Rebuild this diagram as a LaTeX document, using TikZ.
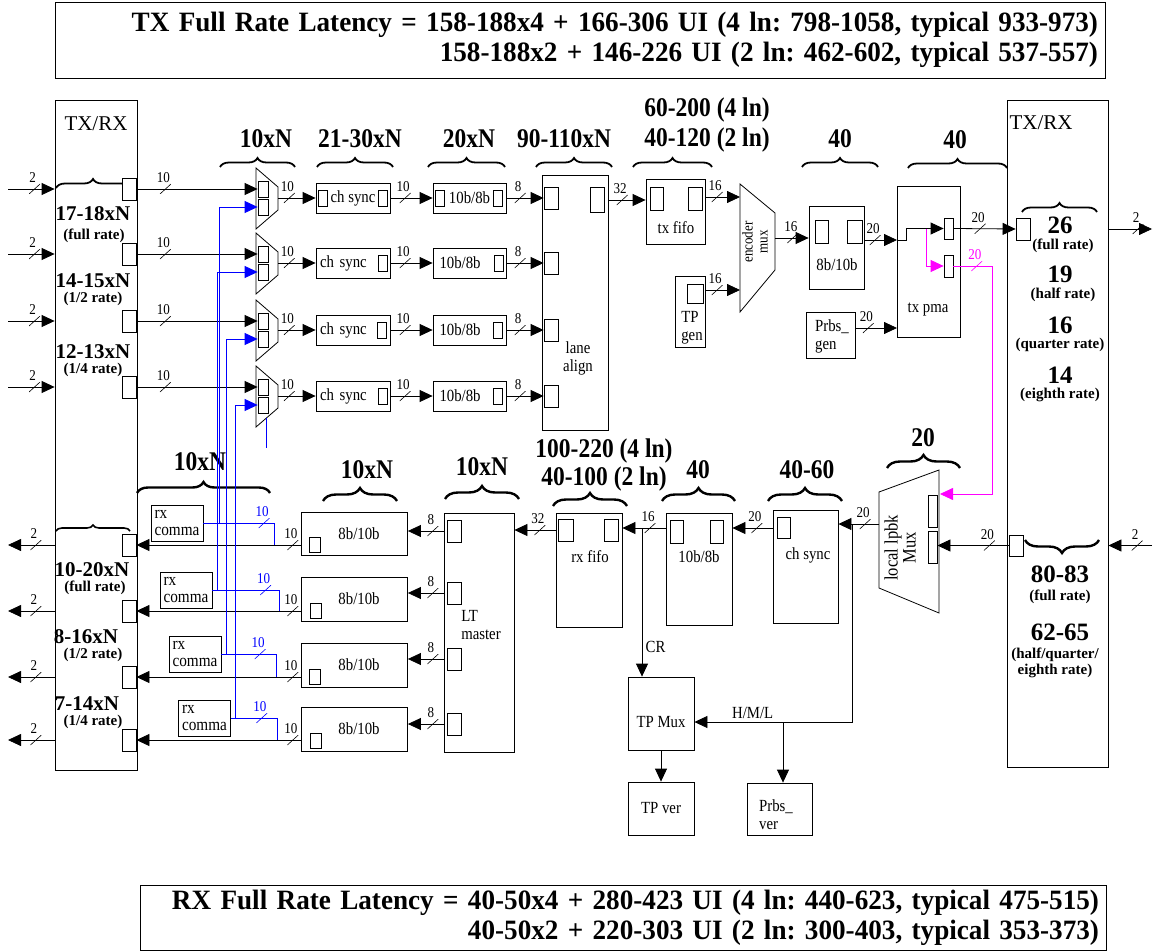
\documentclass[tikz,border=0pt]{standalone}
\usepackage{fontspec}
\setmainfont{Liberation Serif}
\newfontfamily\condserif[FakeStretch=0.97]{Liberation Serif}
\newfontfamily\narrowserif[FakeStretch=0.87]{Liberation Serif}
\usetikzlibrary{arrows.meta, decorations.pathreplacing}
\definecolor{wireblue}{RGB}{0,0,255}
\definecolor{loopmag}{RGB}{255,0,255}
\newcommand{\lblfont}{\narrowserif\fontsize{17}{18}\selectfont}
\newcommand{\commafont}{\narrowserif\fontsize{17.5}{17}\selectfont}
\newcommand{\busfont}{\narrowserif\fontsize{15}{15}\selectfont}
\newcommand{\sidefont}{\fontsize{21}{21}\selectfont}
\newcommand{\headfont}{\narrowserif\fontsize{27}{30}\selectfont\bfseries}
\newcommand{\numfont}{\fontsize{21}{21}\selectfont\bfseries}
\newcommand{\bignumfont}{\fontsize{25}{25}\selectfont\bfseries}
\newcommand{\ratefont}{\fontsize{15}{16}\selectfont\bfseries}
\newcommand{\latfont}{\condserif\fontsize{28}{30}\selectfont\bfseries}
\tikzstyle{box} = [rectangle, draw=black, line width=0.8pt, inner sep=0pt, font=\lblfont]
\tikzstyle{port} = [rectangle, draw=black, line width=0.8pt, fill=white, inner sep=0pt, minimum width=14pt, minimum height=22pt]
\tikzstyle{sport} = [port, minimum width=10pt, minimum height=16pt]
\tikzstyle{wire} = [line width=0.8pt]
\tikzstyle{arrow} = [line width=0.8pt, -{Triangle[length=13pt,width=12pt]}]
\tikzstyle{brc} = [decorate, decoration={brace, amplitude=9pt}, line width=1.8pt]
\tikzstyle{brcb} = [decorate, decoration={brace, amplitude=13pt}, line width=2.4pt]
\tikzstyle{ratetxt} = [font=\ratefont, inner sep=0.5pt]
\tikzstyle{bignum} = [font=\bignumfont, inner sep=0.5pt]
\tikzstyle{slash} = [inner sep=0pt, minimum width=11pt, minimum height=10pt, path picture={\draw[-, line width=0.6pt] (path picture bounding box.south west) -- (path picture bounding box.north east);}]
\tikzset{bus/.style={slash, label={[font=\busfont, inner sep=0.5pt, xshift=-2pt]above:#1}}}

\begin{document}
\frenchspacing
\begin{tikzpicture}[x=1pt, y=-1pt]
\useasboundingbox (0,0) rectangle (1153,952);

% latency boxes
\node[box, minimum width=1050, minimum height=76, text width=1036, align=right, font=\latfont] (txlat) at (580,40) {TX Full Rate Latency = 158-188x4 + 166-306 UI (4 ln: 798-1058, typical 933-973)\\158-188x2 + 146-226 UI (2 ln: 462-602, typical 537-557)};
\node[box, minimum width=966, minimum height=65, text width=952, align=right, font=\latfont] (rxlat) at (623,917.5) {RX Full Rate Latency = 40-50x4 + 280-423 UI (4 ln: 440-623, typical 475-515)\\40-50x2 + 220-303 UI (2 ln: 300-403, typical 353-373)};

% TX/RX side boxes
\node[box, minimum width=82, minimum height=670] (lbox) at (96,435) {};
\node[font=\sidefont] (ltxt) at (96,124) {TX/RX};
\node[box, minimum width=101, minimum height=667] (rbox) at (1057.5,433.5) {};
\node[font=\sidefont] (rtxt) at (1041,123) {TX/RX};

\node[font=\numfont] (lt1) at (93,214) {17-18xN};
\node[ratetxt] (lt1s) at (94,236) {(full rate)};
\node[font=\numfont] (lt2) at (93,281) {14-15xN};
\node[ratetxt] (lt2s) at (93,299) {(1/2 rate)};
\node[font=\numfont] (lt3) at (93,352) {12-13xN};
\node[ratetxt] (lt3s) at (93,370) {(1/4 rate)};
\node[font=\numfont] (lr1) at (92,570) {10-20xN};
\node[ratetxt] (lr1s) at (95,588) {(full rate)};
\node[font=\numfont] (lr2) at (86,637) {8-16xN};
\node[ratetxt] (lr2s) at (93,655) {(1/2 rate)};
\node[font=\numfont] (lr3) at (87,704) {7-14xN};
\node[ratetxt] (lr3s) at (93,722) {(1/4 rate)};

\node[bignum] (rt1) at (1060,225) {26};
\node[ratetxt] (rt1s) at (1063,246) {(full rate)};
\node[bignum] (rt2) at (1060,274) {19};
\node[ratetxt] (rt2s) at (1063,295) {(half rate)};
\node[bignum] (rt3) at (1060,325) {16};
\node[ratetxt] (rt3s) at (1060,345) {(quarter rate)};
\node[bignum] (rt4) at (1060,375) {14};
\node[ratetxt] (rt4s) at (1060,395) {(eighth rate)};
\node[bignum] (rr1) at (1060,574) {80-83};
\node[ratetxt] (rr1s) at (1060,597) {(full rate)};
\node[bignum] (rr2) at (1060,632) {62-65};
\node[ratetxt, align=center] (rr2s) at (1055,663) {(half/quarter/\\eighth rate)};

\draw[brc] (56,188) -- (130,188);
\draw[brc] (1022,212) -- (1097,212);
\draw[decorate, decoration={brace, amplitude=6pt}, line width=1.6pt] (56,531) -- (130,531);
\draw[brcb] (1099,540) -- (1025,540);

% TX headings
\node[font=\headfont] (htx1) at (266,139) {10xN};
\node[font=\headfont] (htx2) at (360,139) {21-30xN};
\node[font=\headfont] (htx3) at (469,139) {20xN};
\node[font=\headfont] (htx4) at (564,139) {90-110xN};
\node[font=\headfont, align=center] (htx5) at (707,125) {60-200 (4 ln)\\40-120 (2 ln)};
\node[font=\headfont] (htx6) at (840,139) {40};
\node[font=\headfont] (htx7) at (955,140) {40};
\draw[brc] (220,167) -- (295,167);
\draw[brc] (317,167) -- (393,167);
\draw[brc] (428,167) -- (505,167);
\draw[brc] (536,167) -- (612,167);
\draw[brc] (633,167) -- (712,167);
\draw[brc] (802,167) -- (878,167);
\draw[brc] (908,168) -- (1007,168);

% TX lanes: ports, muxes, ch sync, 10b/8b
\node[port] (ltp1) at (129,189) {};
\node[port] (ltp2) at (129,254) {};
\node[port] (ltp3) at (129,321) {};
\node[port] (ltp4) at (129,387) {};
\coordinate (tin1) at (8,189);
\coordinate (tin2) at (8,254);
\coordinate (tin3) at (8,321);
\coordinate (tin4) at (8,387);

\draw[wire] (256,168) -- (278,187) -- (278,210) -- (256,229) -- cycle;
\draw[wire] (256,233) -- (278,252) -- (278,275) -- (256,294) -- cycle;
\draw[wire] (256,300) -- (278,319) -- (278,342) -- (256,361) -- cycle;
\draw[wire] (256,366) -- (278,385) -- (278,408) -- (256,427) -- cycle;
\node[sport] (mxa1) at (263,189) {};
\node[sport] (mxb1) at (263,207) {};
\node[sport] (mxa2) at (263,254) {};
\node[sport] (mxb2) at (263,272) {};
\node[sport] (mxa3) at (263,321) {};
\node[sport] (mxb3) at (263,339) {};
\node[sport] (mxa4) at (263,387) {};
\node[sport] (mxb4) at (263,405) {};
\coordinate (mxo1) at (278,198);
\coordinate (mxo2) at (278,263);
\coordinate (mxo3) at (278,330);
\coordinate (mxo4) at (278,396);

\node[box, minimum width=74, minimum height=30] (chs1) at (353,198) {ch sync};
\node[box, minimum width=74, minimum height=30, text width=66] (chs2) at (353,263) {ch sync};
\node[box, minimum width=74, minimum height=30, text width=66] (chs3) at (353,330) {ch sync};
\node[box, minimum width=74, minimum height=30, text width=66] (chs4) at (353,396) {ch sync};
\node[sport, minimum width=9] (csp0) at (323,198) {};
\node[sport, minimum width=9] (csp1) at (383,198) {};
\node[sport, minimum width=9] (csp2) at (383,263) {};
\node[sport, minimum width=9] (csp3) at (382,330) {};
\node[sport, minimum width=9] (csp4) at (383,396) {};

\node[box, minimum width=73, minimum height=30] (dc1) at (469.5,198) {10b/8b};
\node[box, minimum width=73, minimum height=30, text width=60] (dc2) at (469.5,263) {10b/8b};
\node[box, minimum width=73, minimum height=30, text width=60] (dc3) at (469.5,330) {10b/8b};
\node[box, minimum width=73, minimum height=30, text width=60] (dc4) at (469.5,396) {10b/8b};
\node[sport, minimum width=9] (dcp0) at (440,198) {};
\node[sport, minimum width=9] (dcp1) at (498,198) {};
\node[sport, minimum width=9] (dcp2) at (499,263) {};
\node[sport, minimum width=9] (dcp3) at (498,330) {};
\node[sport, minimum width=9] (dcp4) at (498,396) {};

\node[box, minimum width=66, minimum height=255] (la) at (575,302.5) {};
\node[font=\lblfont, align=center] (latxt) at (578,358) {lane\\align};
\node[port] (lap1) at (551,198) {};
\node[port] (lap2) at (551,263) {};
\node[port] (lap3) at (551,330) {};
\node[port] (lap4) at (551,396) {};
\node[port, minimum height=25] (laout) at (597,200) {};

\draw[arrow] (tin1) -- node[bus=2, pos=0.57] {} (tin1 -| lbox.west);
\draw[arrow] (tin2) -- node[bus=2, pos=0.57] {} (tin2 -| lbox.west);
\draw[arrow] (tin3) -- node[bus=2, pos=0.57] {} (tin3 -| lbox.west);
\draw[arrow] (tin4) -- node[bus=2, pos=0.57] {} (tin4 -| lbox.west);
\draw[arrow] (ltp1.east) -- node[bus=10, pos=0.24] {} (mxa1.west);
\draw[arrow] (ltp2.east) -- node[bus=10, pos=0.24] {} (mxa2.west);
\draw[arrow] (ltp3.east) -- node[bus=10, pos=0.24] {} (mxa3.west);
\draw[arrow] (ltp4.east) -- node[bus=10, pos=0.24] {} (mxa4.west);
\draw[arrow] (mxo1) -- node[bus=10, pos=0.3] {} (chs1.west);
\draw[arrow] (mxo2) -- node[bus=10, pos=0.3] {} (chs2.west);
\draw[arrow] (mxo3) -- node[bus=10, pos=0.3] {} (chs3.west);
\draw[arrow] (mxo4) -- node[bus=10, pos=0.3] {} (chs4.west);
\draw[arrow] (chs1.east) -- node[bus=10, pos=0.35] {} (dc1.west);
\draw[arrow] (chs2.east) -- node[bus=10, pos=0.35] {} (dc2.west);
\draw[arrow] (chs3.east) -- node[bus=10, pos=0.35] {} (dc3.west);
\draw[arrow] (chs4.east) -- node[bus=10, pos=0.35] {} (dc4.west);
\draw[arrow] (dc1.east) -- node[bus=8, pos=0.37] {} (lap1.west);
\draw[arrow] (dc2.east) -- node[bus=8, pos=0.37] {} (lap2.west);
\draw[arrow] (dc3.east) -- node[bus=8, pos=0.37] {} (lap3.west);
\draw[arrow] (dc4.east) -- node[bus=8, pos=0.37] {} (lap4.west);

% tx fifo, TP gen, encoder mux, 8b/10b, tx pma
\node[box, minimum width=59, minimum height=65] (txff) at (675.5,211.5) {};
\node[port, minimum width=13, minimum height=23] (txf1) at (656.5,198.5) {};
\node[port, minimum width=14, minimum height=23] (txf2) at (695.5,198.5) {};
\node[font=\lblfont] (txfftxt) at (676,228) {tx fifo};
\node[box, minimum width=30, minimum height=71] (tpgen) at (690,311.5) {};
\node[port, minimum width=16, minimum height=19] (tpgp) at (695,293.5) {};
\node[font=\lblfont, align=left] (tpgtxt) at (692,328) {TP\\gen};
\draw[wire] (740,184) -- (775,213) -- (775,270) -- (740,312) -- cycle;
\node[rotate=90, font=\narrowserif\fontsize{15}{15}\selectfont, align=center] (enctxt) at (755,242) {encoder\\mux};
\coordinate (enca) at (740,197);
\coordinate (encb) at (740,290);
\coordinate (enco) at (775,238);
\node[box, minimum width=55, minimum height=83] (enc8b) at (836.5,247.5) {};
\node[port, minimum width=13, minimum height=23] (e8p1) at (821.5,231.5) {};
\node[port, minimum width=15, minimum height=23] (e8p2) at (854.5,231.5) {};
\node[font=\lblfont] (enc8btxt) at (837,265) {8b/10b};
\node[box, minimum width=49, minimum height=46] (prbsg) at (830.5,335) {};
\node[font=\lblfont, align=left] (prbsgtxt) at (832,336) {Prbs\_\\gen};
\node[box, minimum width=63, minimum height=151] (txpma) at (928.5,261.5) {};
\node[font=\lblfont] (txpmatxt) at (928,310) {tx pma};
\node[port, minimum width=9, minimum height=21] (txa) at (948.5,228.5) {};
\node[port, minimum width=9, minimum height=22] (txb) at (948.5,266) {};
\node[port, minimum width=14, minimum height=22] (rport) at (1023,229) {};
\coordinate (pmain) at (897,240);
\coordinate (pmsplit) at (926,228.5);
\coordinate (pgin) at (897,328);
\coordinate (tout) at (1152,229);

\draw[arrow] (la.east |- laout) -- node[bus=32, pos=0.37] {} (txff.west |- laout);
\draw[arrow] (txff.east |- enca) -- node[bus=16, pos=0.34] {} (enca);
\draw[arrow] (tpgen.east |- encb) -- node[bus=16, pos=0.34] {} (encb);
\draw[arrow] (enco) -- node[bus=16, pos=0.53] {} (enc8b.west |- enco);
\draw[arrow] (enc8b.east |- pmain) -- node[bus=20, pos=0.33] {} (pmain);
\draw[arrow] (pmain) -- ++(9,0) |- (txa.west);
\draw[arrow, loopmag] (pmsplit) |- (txb.west);
\draw[arrow] (prbsg.east |- pgin) -- node[bus=20, pos=0.31] {} (pgin);
\draw[arrow] (txa.east) -- node[bus=20, pos=0.43] {} (rport.west);
\draw[arrow] (rport -| rbox.east) -- node[bus=2, pos=0.68] {} (tout);

% RX headings
\node[font=\headfont] (hrx1) at (200,462) {10xN};
\node[font=\headfont] (hrx2) at (367,470) {10xN};
\node[font=\headfont] (hrx3) at (482,467) {10xN};
\node[font=\headfont, align=center] (hrx4) at (604,465) {100-220 (4 ln)\\[-2pt]40-100 (2 ln)};
\node[font=\headfont] (hrx5) at (698,470) {40};
\node[font=\headfont] (hrx6) at (807,470) {40-60};
\node[font=\headfont] (hrx7) at (923,438) {20};
\draw[decorate, decoration={brace, amplitude=11pt}, line width=2.4pt] (137,493) -- (270,493);
\draw[brcb] (323,501) -- (397,501);
\draw[brcb] (445,499) -- (519,499);
\draw[brcb] (553,506) -- (627,506);
\draw[brcb] (662,501) -- (735,501);
\draw[brcb] (768,501) -- (842,501);
\draw[brcb] (887,468) -- (960,468);

% RX lanes
\node[port] (lrp1) at (129,545) {};
\node[port] (lrp2) at (129,611) {};
\node[port] (lrp3) at (129,677) {};
\node[port] (lrp4) at (129,740) {};
\coordinate (rout1) at (8,545);
\coordinate (rout2) at (8,611);
\coordinate (rout3) at (8,677);
\coordinate (rout4) at (8,740);

\node[box, minimum width=52, minimum height=36, align=left, font=\commafont] (rxc1) at (177,523) {rx\\comma};
\node[box, minimum width=52, minimum height=36, align=left, font=\commafont] (rxc2) at (186,590) {rx\\comma};
\node[box, minimum width=52, minimum height=36, align=left, font=\commafont] (rxc3) at (195,654) {rx\\comma};
\node[box, minimum width=52, minimum height=36, align=left, font=\commafont] (rxc4) at (204.5,718) {rx\\comma};

\node[box, minimum width=106, minimum height=43] (rd1) at (354.5,534) {\hspace{9pt}8b/10b};
\node[box, minimum width=106, minimum height=44] (rd2) at (354.5,599) {\hspace{9pt}8b/10b};
\node[box, minimum width=106, minimum height=44] (rd3) at (354.5,665) {\hspace{9pt}8b/10b};
\node[box, minimum width=106, minimum height=44] (rd4) at (354.5,729) {\hspace{9pt}8b/10b};
\node[sport, minimum width=11, minimum height=15] (rdp1) at (315,545) {};
\node[sport, minimum width=11, minimum height=15] (rdp2) at (316,611) {};
\node[sport, minimum width=11, minimum height=15] (rdp3) at (315,677) {};
\node[sport, minimum width=11, minimum height=15] (rdp4) at (316,741) {};

\node[box, minimum width=70, minimum height=239] (ltm) at (479,632.5) {};
\node[font=\lblfont, align=left] (ltmtxt) at (481,625) {LT\\master};
\node[port] (ltp1) at (454.5,531) {};
\node[port] (ltp2) at (454.5,593) {};
\node[port] (ltp3) at (454.5,659) {};
\node[port] (ltp4) at (454.5,724) {};

\node[box, minimum width=66, minimum height=114] (rff) at (589,570) {};
\node[port, minimum width=15] (rfp1) at (565.5,530) {};
\node[port] (rfp2) at (611,530) {};
\node[font=\lblfont] (rfftxt) at (590,557) {rx fifo};
\node[box, minimum width=66, minimum height=112] (rdec) at (699,569) {};
\node[port, minimum width=13, minimum height=23] (rdc1) at (676.5,531.5) {};
\node[port, minimum width=13, minimum height=23] (rdc2) at (716.5,531.5) {};
\node[font=\lblfont] (rdectxt) at (699,557) {10b/8b};
\node[box, minimum width=65, minimum height=113] (rcs) at (805.5,566.5) {};
\node[port, minimum width=13, minimum height=21] (rcsp) at (783.5,527.5) {};
\node[font=\lblfont] (rcstxt) at (808,555) {ch sync};

\draw[wire] (879,492) -- (939,470) -- (939,613) -- (879,588) -- cycle;
\node[port, minimum width=9, minimum height=32] (lpa) at (932.5,511) {};
\node[port, minimum width=9, minimum height=32] (lpb) at (932.5,547) {};
\node[rotate=90, font=\narrowserif\fontsize{19}{18}\selectfont, align=center] (lptxt) at (900,548) {local lpbk\\Mux};
\node[port, minimum width=14, minimum height=21] (rrp) at (1016,545.5) {};

\node[box, minimum width=66, minimum height=73] (tpmux) at (661,713.5) {};
\node[font=\lblfont] (tpmuxtxt) at (661,722) {TP Mux};
\node[box, minimum width=66, minimum height=53] (tpver) at (661,808.5) {TP ver};
\node[box, minimum width=65, minimum height=52] (prbsv) at (779.5,809) {};
\node[font=\lblfont, align=left] (prbsvtxt) at (776,815) {Prbs\_\\ver};

\coordinate (crj) at (642,528);
\coordinate (lpo) at (879,524);
\coordinate (hml) at (852,524);
\coordinate (hmlb) at (852,722);
\coordinate (pvj) at (783,722);
\coordinate (lpm) at (940,494);
\coordinate (rin) at (1152,545.5);

\draw[arrow] (lrp1 -| lbox.west) -- node[bus=2, pos=0.4] {} (rout1);
\draw[arrow] (lrp2 -| lbox.west) -- node[bus=2, pos=0.4] {} (rout2);
\draw[arrow] (lrp3 -| lbox.west) -- node[bus=2, pos=0.4] {} (rout3);
\draw[arrow] (lrp4 -| lbox.west) -- node[bus=2, pos=0.4] {} (rout4);
\draw[arrow] (rd1.west |- lrp1) -- node[bus=10, pos=0.05] {} (lrp1.east);
\draw[arrow] (rd2.west |- lrp2) -- node[bus=10, pos=0.05] {} (lrp2.east);
\draw[arrow] (rd3.west |- lrp3) -- node[bus=10, pos=0.05] {} (lrp3.east);
\draw[arrow] (rd4.west |- lrp4) -- node[bus=10, pos=0.05] {} (lrp4.east);
\draw[arrow] (ltm.west |- ltp1) -- node[bus=8, pos=0.3] {} (rd1.east |- ltp1);
\draw[arrow] (ltm.west |- ltp2) -- node[bus=8, pos=0.3] {} (rd2.east |- ltp2);
\draw[arrow] (ltm.west |- ltp3) -- node[bus=8, pos=0.3] {} (rd3.east |- ltp3);
\draw[arrow] (ltm.west |- ltp4) -- node[bus=8, pos=0.3] {} (rd4.east |- ltp4);
\draw[arrow] (rff.west |- rfp1) -- node[bus=32, pos=0.38] {} (ltm.east |- rfp1);
\draw[arrow] (rdec.west |- crj) -- node[bus=16, pos=0.36] {} (rff.east |- crj);
\draw[arrow] (crj) -- node[pos=0.8, right, font=\lblfont] {CR} (crj |- tpmux.north);
\draw[arrow] (rcs.west |- crj) -- node[bus=20, pos=0.39] {} (rdec.east |- crj);
\draw[arrow] (lpo) -- node[bus=20, pos=0.34] {} (rcs.east |- lpo);
\draw[arrow] (hml) -- (hmlb) -- node[pos=0.63, above, font=\lblfont] {H/M/L} (hmlb -| tpmux.east);
\draw[arrow] (pvj) -- (pvj |- prbsv.north);
\draw[arrow] (tpmux.south) -- (tpver.north);
\draw[arrow] (rrp.west) -- node[bus=20, pos=0.27] {} (lpb.east |- rrp);
\draw[arrow] (rin) -- node[bus=2, pos=0.34] {} (rin -| rbox.east);
\draw[arrow, loopmag] (txb.east) -- node[bus=20, pos=0.6] {} ++(39,0) |- (lpm);

% rx comma wiring back to the TX muxes
\coordinate (bj1) at (219,523);
\coordinate (bj2) at (217,590);
\coordinate (bj3) at (226,654);
\coordinate (bj4) at (235,718);
\coordinate (bk1) at (274,523);
\coordinate (bk2) at (279,590);
\coordinate (bk3) at (276,654);
\coordinate (bk4) at (277,718);
\coordinate (bs1) at (266,418);
\coordinate (bs2) at (266,448);
\draw[wire, wireblue] (rxc1.east) -- node[bus=10, pos=0.86] {} (bk1) -- (bk1 |- lrp1);
\draw[wire, wireblue] (rxc2.east) -- node[bus=10, pos=0.8] {} (bk2) -- (bk2 |- lrp2);
\draw[wire, wireblue] (rxc3.east) -- node[bus=10, pos=0.71] {} (bk3) -- (bk3 |- lrp3);
\draw[wire, wireblue] (rxc4.east) -- node[bus=10, pos=0.67] {} (bk4) -- (bk4 |- lrp4);
\draw[arrow, wireblue] (bj1) |- (mxb1.west);
\draw[arrow, wireblue] (bj2) |- (mxb2.west);
\draw[arrow, wireblue] (bj3) |- (mxb3.west);
\draw[arrow, wireblue] (bj4) |- (mxb4.west);
\draw[wire, wireblue] (bs1) -- (bs2);

\end{tikzpicture}
\end{document}
